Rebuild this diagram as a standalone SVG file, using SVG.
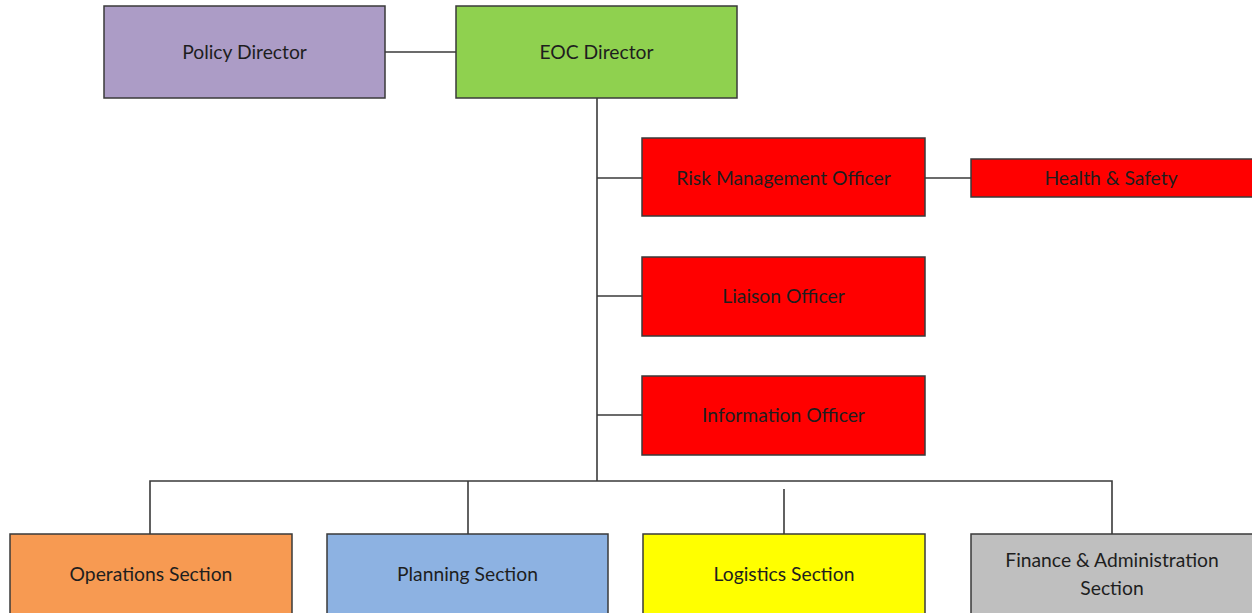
<svg xmlns="http://www.w3.org/2000/svg" width="1252" height="613" viewBox="0 0 1252 613">
<style>
.box{stroke:#3a3a3a;stroke-width:1.5}
.t{font-family:Lato,"Liberation Sans",sans-serif;font-size:19.3px;fill:#1e1e1e;text-anchor:middle;dominant-baseline:central}
.c{stroke:#3a3a3a;stroke-width:1.6;fill:none}
</style>
<rect width="1252" height="613" fill="#ffffff"/>
<g id="connectors">
<line class="c" x1="385" y1="52" x2="456" y2="52"/>
<line class="c" x1="597" y1="98" x2="597" y2="481"/>
<line class="c" x1="597" y1="178" x2="642" y2="178"/>
<line class="c" x1="925" y1="178" x2="971" y2="178"/>
<line class="c" x1="597" y1="296" x2="642" y2="296"/>
<line class="c" x1="597" y1="415" x2="642" y2="415"/>
<polyline class="c" points="150,534 150,481 1112,481 1112,534"/>
<line class="c" x1="468" y1="481" x2="468" y2="534"/>
<line class="c" x1="784" y1="489" x2="784" y2="534"/>
</g>
<g id="policy-director"><rect class="box" x="104" y="6" width="281" height="92" fill="#ac9cc6"/><text class="t" x="244.5" y="51">Policy Director</text></g>
<g id="eoc-director"><rect class="box" x="456" y="6" width="281" height="92" fill="#8fd14f"/><text class="t" x="596.5" y="51">EOC Director</text></g>
<g id="risk-management-officer"><rect class="box" x="642" y="138" width="283" height="78" fill="#ff0000"/><text class="t" x="783.5" y="177">Risk Management Officer</text></g>
<g id="health-safety"><rect class="box" x="971" y="159" width="282" height="38" fill="#ff0000"/><text class="t" x="1111" y="177">Health &amp; Safety</text></g>
<g id="liaison-officer"><rect class="box" x="642" y="257" width="283" height="79" fill="#ff0000"/><text class="t" x="783.5" y="295">Liaison Officer</text></g>
<g id="information-officer"><rect class="box" x="642" y="376" width="283" height="79" fill="#ff0000"/><text class="t" x="783.5" y="414">Information Officer</text></g>
<g id="operations-section"><rect class="box" x="10" y="534" width="282" height="80" fill="#f79a52"/><text class="t" x="151" y="573">Operations Section</text></g>
<g id="planning-section"><rect class="box" x="327" y="534" width="281" height="80" fill="#8db2e2"/><text class="t" x="467.5" y="573">Planning Section</text></g>
<g id="logistics-section"><rect class="box" x="643" y="534" width="282" height="80" fill="#ffff00"/><text class="t" x="784" y="573">Logistics Section</text></g>
<g id="finance-administration-section"><rect class="box" x="971" y="534" width="282" height="80" fill="#bfbfbf"/><text class="t" x="1112" y="559">Finance &amp; Administration</text><text class="t" x="1112" y="587">Section</text></g>
</svg>
